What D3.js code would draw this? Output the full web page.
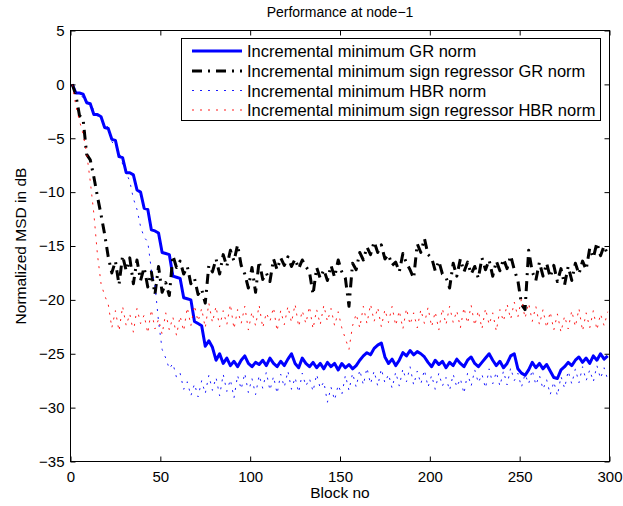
<!DOCTYPE html>
<html>
<head>
<meta charset="utf-8">
<script src="https://cdn.jsdelivr.net/npm/d3@7"></script>
<style>
  body { margin: 0; background: #fff; }
  text { font-family: "Liberation Sans", Arial, Helvetica, sans-serif; fill: #000; }
</style>
</head>
<body>
<svg id="chart" width="623" height="506"></svg>
<script>
// block index (x), one value every second block
var blocks = d3.range(1, 300, 2)

var xTicks = [0, 50, 100, 150, 200, 250, 300]
var yTicks = [5, 0, -5, -10, -15, -20, -25, -30, -35]

var seriesNames = [
    "Incremental minimum GR norm",
    "Incremental minimum sign regressor GR norm",
    "Incremental minimum HBR norm",
    "Incremental minimum sign regressor HBR norm"
]

// normalized MSD in dB
var grNorm = [
    0, -0.8, -0.8, -0.9, -1.7, -1.8, -2.8, -2.8, -3.0, -4.0,
    -4.1, -5.1, -5.2, -6.7, -6.8, -8.2, -8.2, -8.4, -9.8, -10.0,
    -11.5, -11.6, -13.5, -13.6, -13.8, -15.6, -15.7, -15.8, -17.8, -17.9,
    -18.0, -19.8, -19.9, -20.0, -22.0, -22.2, -22.4, -24.3, -23.8, -24.4,
    -25.6, -25.0, -25.9, -25.4, -26.1, -25.7, -26.2, -25.6, -25.2, -25.9,
    -26.2, -25.8, -26.0, -25.6, -26.1, -25.4, -25.9, -26.2, -25.7, -26.1,
    -25.5, -25.0, -25.9, -26.3, -25.4, -25.9, -26.2, -25.8, -26.3, -25.9,
    -26.4, -25.8, -26.2, -25.9, -26.5, -25.9, -26.3, -26.0, -26.4, -26.1,
    -25.6, -25.2, -24.9, -25.1, -24.5, -24.2, -24.0, -25.3, -25.9, -25.5,
    -26.1, -25.6, -24.9, -25.2, -24.7, -25.1, -24.8, -25.0, -25.3, -25.8,
    -26.2, -25.6, -26.0, -25.7, -26.3, -25.8, -26.1, -25.5, -25.9, -26.2,
    -25.6, -25.3, -25.9, -26.2, -25.8, -25.4, -25.0, -25.6, -26.1, -25.7,
    -26.3, -25.9, -25.2, -25.0, -26.4, -26.8, -27.0, -26.5, -25.8, -26.3,
    -25.9, -26.4, -26.0, -26.6, -27.2, -27.3, -26.5, -26.2, -25.8, -26.1,
    -25.6, -25.3, -25.8, -25.4, -25.9, -25.2, -25.6, -25.0, -25.5, -25.2
]

var signGrNorm = [
    0, -1.0, -2.9, -3.2, -6.5, -7.0, -8.6, -10.4, -12.1, -13.9,
    -16.0, -17.5, -16.4, -18.6, -15.9, -17.3, -16.1, -18.5, -16.3, -18.2,
    -17.0, -18.8, -17.4, -19.5, -16.9, -19.3, -18.4, -19.6, -15.9, -17.0,
    -16.4, -17.6, -16.9, -18.5, -18.0, -19.5, -19.0, -20.3, -16.8, -17.4,
    -16.2, -17.6, -15.8, -16.9, -15.4, -16.4, -14.9, -16.8, -17.6, -18.9,
    -17.0, -19.3, -16.4, -18.1, -17.5, -18.3, -16.2, -17.2, -16.1, -16.8,
    -16.0, -16.9, -16.2, -17.1, -16.3, -16.9, -17.4, -19.5, -17.0, -18.0,
    -17.2, -18.2, -16.8, -17.9, -16.3, -17.4, -18.0, -20.6, -16.6, -17.2,
    -15.6, -16.3, -15.1, -15.8, -14.6, -15.6, -14.9, -16.2, -15.8, -16.8,
    -16.5, -17.4, -15.7, -16.6, -17.2, -18.0, -14.8, -15.6, -14.3, -15.8,
    -16.1, -17.3, -16.4, -17.6, -17.9, -18.9, -16.6, -17.8, -16.2, -17.4,
    -16.5, -17.6, -16.9, -18.0, -16.1, -17.2, -16.3, -17.8, -16.4, -17.3,
    -16.2, -17.1, -15.9, -17.2, -18.2, -20.4, -20.9, -15.4, -17.4, -18.2,
    -16.5, -17.8, -16.6, -17.9, -16.8, -18.3, -17.1, -18.6, -16.9, -18.2,
    -16.6, -17.6, -16.4, -17.2, -15.2, -16.1, -14.7, -15.9, -15.0, -15.8
]

var hbrNorm = [
    0, -0.8, -1.0, -1.2, -1.6, -1.8, -2.4, -3.0, -3.2, -3.6,
    -4.0, -5.3, -5.8, -6.2, -7.4, -8.2, -9.0, -10.6, -11.6, -13.2,
    -14.2, -14.6, -17.2, -18.6, -22.0, -24.6, -25.4, -26.4, -25.9, -27.2,
    -26.8, -28.3, -27.6, -28.9, -27.8, -29.0, -27.5, -28.7, -27.0, -28.4,
    -27.2, -28.9, -26.9, -28.5, -27.4, -29.1, -27.0, -28.3, -26.8, -28.6,
    -27.3, -28.8, -27.0, -28.2, -26.7, -28.4, -27.1, -28.7, -26.9, -28.1,
    -26.6, -28.3, -27.2, -28.6, -26.8, -28.0, -27.3, -28.5, -26.9, -28.2,
    -27.6, -29.5, -28.1, -29.3, -27.9, -28.8, -27.0, -28.4, -26.8, -28.1,
    -26.5, -27.9, -26.3, -27.8, -26.6, -28.0, -26.4, -27.7, -26.9, -28.2,
    -26.7, -28.0, -26.4, -27.6, -26.2, -27.9, -26.6, -27.8, -26.5, -28.1,
    -27.0, -28.3, -26.8, -28.0, -27.2, -28.4, -26.9, -28.1, -27.3, -28.7,
    -26.8, -28.0, -26.5, -27.7, -26.9, -28.2, -26.4, -27.8, -26.7, -28.0,
    -26.6, -27.9, -26.3, -27.5, -26.8, -28.1, -26.9, -27.8, -26.5, -27.9,
    -27.0, -28.3, -27.4, -28.8, -27.6, -28.9, -27.1, -28.2, -26.6, -27.8,
    -26.4, -27.7, -26.2, -27.5, -26.5, -27.6, -26.1, -27.3, -26.3, -27.4
]

var signHbrNorm = [
    0, -2.0, -3.4, -4.6, -6.4, -9.0, -12.0, -15.8, -18.5, -19.6,
    -20.4, -22.6, -21.0, -22.9, -20.6, -22.4, -21.3, -23.0, -20.8, -22.2,
    -21.4, -23.1, -20.9, -22.7, -21.8, -23.2, -21.2, -22.8, -21.6, -23.3,
    -21.5, -22.9, -20.7, -22.4, -20.5, -22.0, -20.8, -22.6, -20.3, -22.1,
    -20.6, -22.5, -21.0, -22.3, -20.4, -22.7, -20.9, -22.2, -20.6, -22.8,
    -21.1, -22.4, -20.5, -22.6, -21.2, -22.0, -20.7, -22.9, -21.0, -22.3,
    -20.6, -22.1, -20.4, -22.5, -21.0, -22.2, -20.6, -22.7, -20.9, -22.3,
    -20.5, -22.0, -20.8, -22.4, -21.1, -22.6, -23.6, -24.6, -22.4, -21.3,
    -22.6, -20.6, -22.2, -20.4, -22.0, -20.7, -22.5, -20.9, -22.1, -20.6,
    -22.4, -21.0, -22.7, -20.8, -22.3, -21.2, -22.6, -20.9, -22.2, -20.7,
    -22.5, -21.1, -22.8, -20.8, -22.3, -20.6, -22.1, -21.0, -22.6, -20.7,
    -22.2, -20.5, -22.4, -21.0, -22.7, -20.8, -22.3, -21.2, -22.9, -20.9,
    -22.0, -20.4, -21.8, -20.2, -21.6, -19.9, -21.7, -20.3, -22.0, -20.6,
    -22.3, -20.9, -22.6, -21.1, -22.8, -21.3, -23.0, -21.5, -22.7, -21.0,
    -22.5, -20.8, -22.9, -21.2, -22.6, -21.0, -22.8, -21.3, -22.4, -21.1
]

//drawing style
var styles = [
    {color: "#0000ff", width: 3, dash: null},
    {color: "#000000", width: 3, dash: "10,6,2,6"},
    {color: "#0000ff", width: 0.9, dash: "2,6"},
    {color: "#ff0000", width: 0.9, dash: "2,6"}
]
var allSeries = [grNorm, signGrNorm, hbrNorm, signHbrNorm]

var svg = d3.select("#chart")

var dimensions = {
    width: 623,
    height: 506,
    margin: {top: 30.5, right: 13.5, bottom: 44.5, left: 70.5}
}
var plotRight = dimensions.width - dimensions.margin.right
var plotBottom = dimensions.height - dimensions.margin.bottom

var x = d3.scaleLinear()
          .domain([0, 300])
          .range([dimensions.margin.left, plotRight])
var y = d3.scaleLinear()
          .domain([-35, 5])
          .range([plotBottom, dimensions.margin.top])

svg.append("rect")
   .attr("width", dimensions.width)
   .attr("height", dimensions.height)
   .attr("fill", "#fff")

//clip series to the axes box
svg.append("clipPath")
   .attr("id", "plot-clip")
   .append("rect")
   .attr("x", dimensions.margin.left)
   .attr("y", dimensions.margin.top)
   .attr("width", plotRight - dimensions.margin.left)
   .attr("height", plotBottom - dimensions.margin.top)

var line = d3.line()
             .x((d, i) => x(blocks[i]))
             .y(d => y(d))

svg.append("g")
   .attr("clip-path", "url(#plot-clip)")
   .selectAll(".series")
   .data(allSeries)
   .enter()
   .append("path")
   .attr("class", "series")
   .attr("d", d => line(d))
   .attr("fill", "none")
   .attr("stroke", (d, i) => styles[i].color)
   .attr("stroke-width", (d, i) => styles[i].width)
   .attr("stroke-dasharray", (d, i) => styles[i].dash)
   .attr("stroke-linejoin", "round")

//axes, ticks pointing inward on all four sides
var tickLen = 5
var tickFont = 15
var labelFont = 15.5

var bottomAxis = svg.append("g")
   .attr("transform", `translate(0,${plotBottom})`)
   .call(d3.axisBottom(x).tickValues(xTicks).tickSize(-tickLen).tickPadding(10))
var topAxis = svg.append("g")
   .attr("transform", `translate(0,${dimensions.margin.top})`)
   .call(d3.axisTop(x).tickValues(xTicks).tickSize(-tickLen).tickFormat(""))
var leftAxis = svg.append("g")
   .attr("transform", `translate(${dimensions.margin.left},0)`)
   .call(d3.axisLeft(y).tickValues(yTicks).tickSize(-tickLen).tickPadding(6))
var rightAxis = svg.append("g")
   .attr("transform", `translate(${plotRight},0)`)
   .call(d3.axisRight(y).tickValues(yTicks).tickSize(-tickLen).tickFormat(""))

;[bottomAxis, topAxis, leftAxis, rightAxis].forEach(function(a) {
    a.select(".domain").remove()
    a.selectAll("line").attr("stroke", "#000")
    a.selectAll("text")
     .attr("font-size", tickFont)
     .attr("font-family", "Liberation Sans, Arial, sans-serif")
     .attr("fill", "#000")
})

svg.append("rect")
   .attr("x", dimensions.margin.left)
   .attr("y", dimensions.margin.top)
   .attr("width", plotRight - dimensions.margin.left)
   .attr("height", plotBottom - dimensions.margin.top)
   .attr("fill", "none")
   .attr("stroke", "#000")
   .attr("stroke-width", 1)

//title and axis labels
svg.append("text")
   .attr("x", (dimensions.margin.left + plotRight) / 2)
   .attr("y", 17)
   .attr("text-anchor", "middle")
   .attr("font-size", 14)
   .text("Performance at node\u22121")

svg.append("text")
   .attr("x", (dimensions.margin.left + plotRight) / 2)
   .attr("y", 498)
   .attr("text-anchor", "middle")
   .attr("font-size", labelFont)
   .text("Block no")

svg.append("text")
   .attr("transform", `translate(26,${(dimensions.margin.top + plotBottom) / 2}) rotate(-90)`)
   .attr("text-anchor", "middle")
   .attr("font-size", labelFont)
   .text("Normalized MSD in dB")

//legend
var legendBox = {x: 181.5, y: 38.5, width: 419, height: 82}
var legendRows = [51, 71, 90.5, 110]
var legend = svg.append("g")
legend.append("rect")
      .attr("x", legendBox.x)
      .attr("y", legendBox.y)
      .attr("width", legendBox.width)
      .attr("height", legendBox.height)
      .attr("fill", "#fff")
      .attr("stroke", "#000")

var entries = legend.selectAll(".entry")
                    .data(seriesNames)
                    .enter()
                    .append("g")
                    .attr("class", "entry")
                    .attr("transform", (d, i) => `translate(0,${legendRows[i]})`)
entries.append("line")
       .attr("x1", 192)
       .attr("x2", 242)
       .attr("stroke", (d, i) => styles[i].color)
       .attr("stroke-width", (d, i) => styles[i].width)
       .attr("stroke-dasharray", (d, i) => styles[i].dash)
entries.append("text")
       .attr("x", 247)
       .attr("y", 6)
       .attr("font-size", 16.5)
       .text(d => d)
</script>
</body>
</html>
